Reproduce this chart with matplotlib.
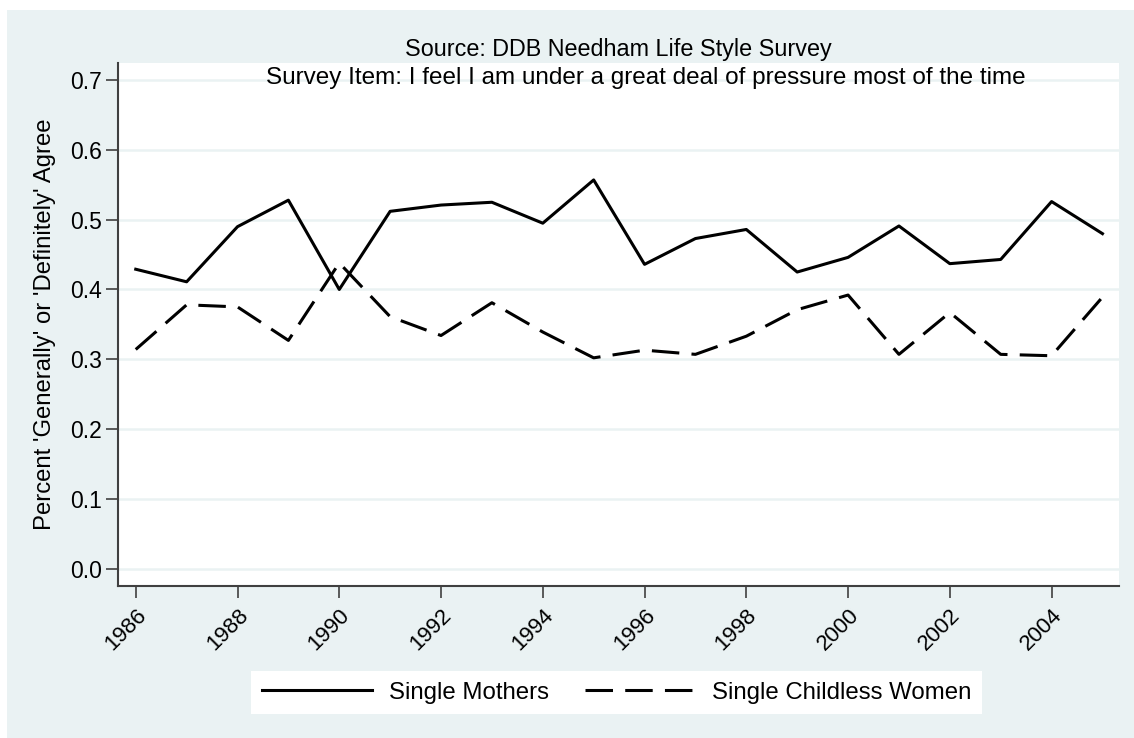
import matplotlib.pyplot as plt
from matplotlib.patches import Rectangle

plt.rcParams['font.family'] = ['Liberation Sans', 'DejaVu Sans']

# Data
years = list(range(1986, 2006))
single_mothers = [0.429, 0.411, 0.490, 0.528, 0.400, 0.512, 0.521, 0.525, 0.495, 0.557,
                  0.436, 0.473, 0.486, 0.425, 0.446, 0.491, 0.437, 0.443, 0.526, 0.480]
single_childless = [0.314, 0.378, 0.375, 0.327, 0.438, 0.361, 0.334, 0.381, 0.339, 0.302,
                    0.313, 0.307, 0.333, 0.371, 0.392, 0.307, 0.367, 0.307, 0.305, 0.389]
x_ticks = list(range(1986, 2005, 2))
y_ticks = [0.0, 0.1, 0.2, 0.3, 0.4, 0.5, 0.6, 0.7]

bg = '#eaf2f3'
fig = plt.figure(figsize=(11.34, 7.38), dpi=100, facecolor='white')
fig.patches.append(Rectangle((7 / 1134, 0), 1 - 7 / 1134, 1 - 10 / 738,
                             transform=fig.transFigure, facecolor=bg,
                             edgecolor='none', zorder=-10))

ax = fig.add_axes([0.104, 0.206, 0.883, 0.709])
ax.set_facecolor('white')

ax.plot(years, single_mothers, color='black', lw=2.2, label='Single Mothers')
ax.plot(years, single_childless, color='black', lw=2.2, dashes=(9, 4),
        label='Single Childless Women')

ax.set_xlim(1985.65, 2005.33)
ax.set_ylim(-0.025, 0.725)
ax.set_xticks(x_ticks)
ax.set_xticklabels([str(y) for y in x_ticks], rotation=45, ha='right',
                   va='top', rotation_mode='anchor')
ax.set_yticks(y_ticks)
ax.set_yticklabels(['%.1f' % v for v in y_ticks])
ax.tick_params(axis='both', length=8.5, width=1.2, color='#404040')
ax.tick_params(axis='y', labelsize=16.5, pad=3)
ax.tick_params(axis='x', labelsize=16, pad=5)

ax.grid(axis='y', color=bg, lw=1.8)
ax.set_axisbelow(True)
for s in ['top', 'right']:
    ax.spines[s].set_visible(False)
for s in ['left', 'bottom']:
    ax.spines[s].set_color('#404040')
    ax.spines[s].set_linewidth(1.5)

ax.set_ylabel("Percent 'Generally' or 'Definitely' Agree", fontsize=17.2, labelpad=10)
ax.set_title('Source: DDB Needham Life Style Survey', fontsize=16.8, pad=5)
ax.text(0.527, 0.970, 'Survey Item: I feel I am under a great deal of pressure most of the time',
        transform=ax.transAxes, ha='center', va='center', fontsize=17.5)

leg = fig.legend(loc='center', bbox_to_anchor=(0.5437, 0.0616), ncol=2, fontsize=17.3,
                 handlelength=4.6, handletextpad=0.7, columnspacing=1.5,
                 fancybox=False, framealpha=1, edgecolor='white',
                 borderpad=0.45)
leg.get_frame().set_linewidth(0)

fig.savefig('out.png', dpi=100)
